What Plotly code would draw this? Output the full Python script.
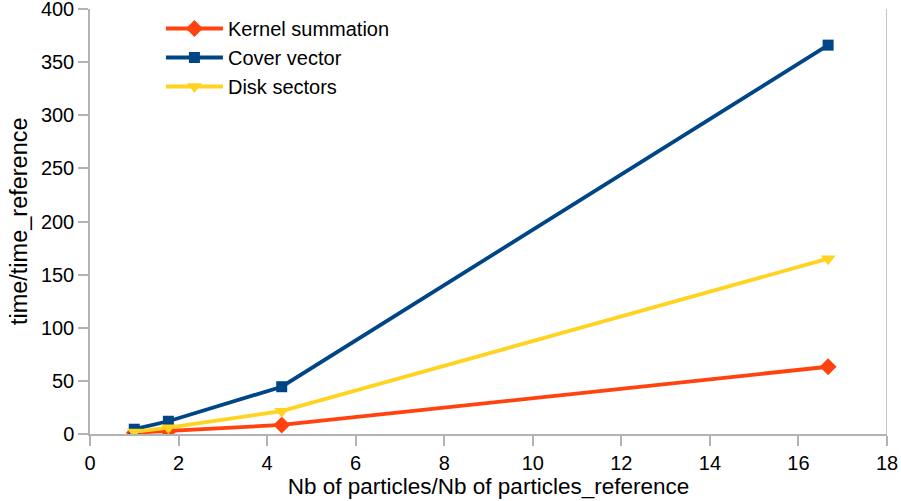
import plotly.graph_objects as go

x_ratio = [1, 1.77, 4.33, 16.67]
kernel = [1.2, 2.8, 8.5, 63.3]
cover = [4.5, 12, 44.5, 366]
disk = [2, 6, 21.5, 165]

series = [
    ("Kernel summation", kernel, "#ff420e", "diamond", 13),
    ("Cover vector", cover, "#004586", "square", 11),
    ("Disk sectors", disk, "#ffd320", "triangle-down", 13),
]

fig = go.Figure()
for i, (name, vals, col, sym, ms) in enumerate(series):
    fig.add_trace(go.Scatter(
        x=x_ratio, y=vals, name=name, mode="lines+markers",
        line=dict(color=col, width=3.8),
        marker=dict(symbol=sym, size=ms, color=col),
        legendgroup=f"g{i}",
    ))

axis_col = "#b3b3b3"
fig.update_layout(
    width=901, height=501,
    margin=dict(l=89.5, r=13.5, t=9, b=67),
    paper_bgcolor="white", plot_bgcolor="white",
    font=dict(family="Liberation Sans, Arial, sans-serif", size=20, color="#000000"),
    showlegend=True,
    legend=dict(x=0.089, y=1.0, xanchor="left", yanchor="top",
                bgcolor="rgba(0,0,0,0)", font=dict(size=20),
                itemwidth=57, tracegroupgap=0),
    xaxis=dict(range=[0, 18], dtick=2, showgrid=False, zeroline=False,
               showline=True, linecolor=axis_col, linewidth=1.5,
               ticks="outside", ticklen=10, tickcolor=axis_col, tickwidth=1.5,
               tickfont=dict(size=20), automargin=False, ticklabeloverflow="allow",
               title=dict(text="Nb of particles/Nb of particles_reference", font=dict(size=22.5), standoff=2)),
    yaxis=dict(range=[0, 400], dtick=50, showgrid=False, zeroline=False,
               showline=True, linecolor=axis_col, linewidth=1.5,
               ticks="outside", ticklen=10, tickcolor=axis_col, tickwidth=1.5,
               tickfont=dict(size=20), automargin=False, ticklabeloverflow="allow"),
)
fig.add_annotation(text="time/time_reference", xref="paper", yref="paper",
                   x=-0.0896, y=0.5, xanchor="center", yanchor="middle",
                   textangle=-90, showarrow=False, font=dict(size=23.5))
fig.add_shape(type="line", xref="x", yref="y", x0=18, x1=18, y0=0, y1=400,
              line=dict(color=axis_col, width=1.5), layer="below")
fig.write_html("out.html", config={"displayModeBar": False},
               post_script="document.body.style.margin='0';document.body.style.overflow='hidden';")
